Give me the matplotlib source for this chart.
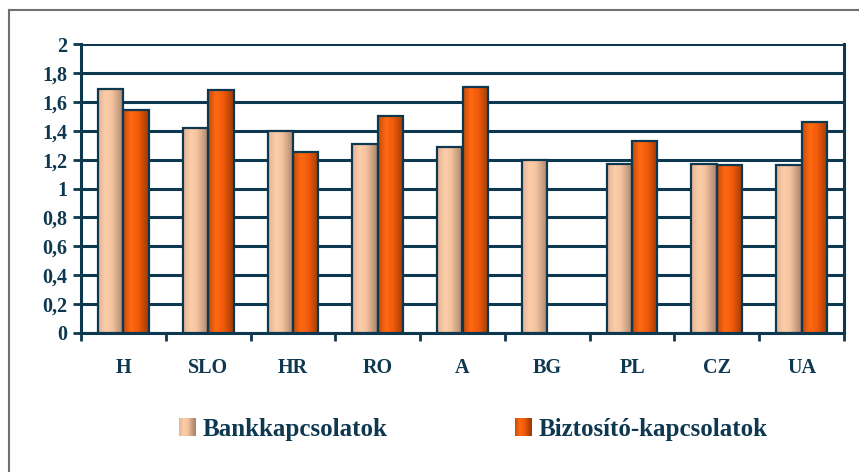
import numpy as np
import matplotlib
matplotlib.use("Agg")
import matplotlib.pyplot as plt
from matplotlib.patches import Rectangle
from matplotlib.legend_handler import HandlerBase
from matplotlib.colors import LinearSegmentedColormap
from matplotlib.lines import Line2D
from matplotlib import font_manager

categories = ["H", "SLO", "HR", "RO", "A", "BG", "PL", "CZ", "UA"]
bank = [1.69, 1.42, 1.40, 1.31, 1.29, 1.20, 1.17, 1.17, 1.16]
biz = [1.54, 1.68, 1.25, 1.50, 1.70, np.nan, 1.33, 1.16, 1.46]
series_names = ["Bankkapcsolatok", "Biztosító-kapcsolatok"]
y_ticks = [0, 0.2, 0.4, 0.6, 0.8, 1, 1.2, 1.4, 1.6, 1.8, 2]
y_labels = ["0", "0,2", "0,4", "0,6", "0,8", "1", "1,2", "1,4", "1,6", "1,8", "2"]

NAVY = "#0D3850"
bank_cmap = LinearSegmentedColormap.from_list(
    "bank", [(0, "#E2B496"), (0.3, "#FDCDA9"), (0.55, "#F4C29E"), (1, "#A8846C")])
biz_cmap = LinearSegmentedColormap.from_list(
    "biz", [(0, "#C84A08"), (0.3, "#FF6A12"), (0.6, "#F05A0A"), (1, "#9E3A02")])

names = {f.name for f in font_manager.fontManager.ttflist}
serif_choices = [n for n in ["Liberation Serif", "Times New Roman", "Nimbus Roman", "DejaVu Serif"] if n in names]
plt.rcParams["font.family"] = "serif"
plt.rcParams["font.serif"] = serif_choices + ["DejaVu Serif"]
plt.rcParams["font.weight"] = "bold"

fig = plt.figure(figsize=(8.59, 4.72), dpi=100)
W, H = 859, 472
ax = fig.add_axes([81 / W, 1 - 333 / H, (844 - 81) / W, (333 - 44) / H])

x = np.arange(len(categories))
bw = 0.30
grad = np.linspace(0, 1, 64).reshape(1, -1)

def gradient_bars(xpos, vals, cmap):
    bars = ax.bar(xpos, np.nan_to_num(vals), bw, facecolor="none",
                  edgecolor=NAVY, linewidth=1.6, zorder=4)
    for b, v in zip(bars, vals):
        if np.isnan(v):
            b.set_visible(False)
            continue
        x0, w, h = b.get_x(), b.get_width(), b.get_height()
        ax.imshow(grad, cmap=cmap, extent=[x0, x0 + w, 0, h],
                  aspect="auto", zorder=3, interpolation="bilinear")
    return bars

gradient_bars(x - bw / 2, bank, bank_cmap)
gradient_bars(x + bw / 2, biz, biz_cmap)

ax.set_xlim(-0.5, len(categories) - 0.5)
ax.set_ylim(0, 2)
ax.set_yticks(y_ticks)
ax.set_yticklabels(y_labels)
ax.set_xticks(x)
ax.set_xticklabels(categories)
ax.set_xticks(np.arange(-0.5, len(categories)), minor=True)
ax.tick_params(axis="x", which="major", length=0, pad=18, labelsize=14.5, labelcolor=NAVY)
ax.tick_params(axis="x", which="minor", length=6, width=2, color=NAVY, direction="out")
ax.tick_params(axis="y", length=6, width=2, color=NAVY, labelsize=14.5, labelcolor=NAVY, pad=4)
ax.grid(axis="y", color=NAVY, linewidth=2.2, zorder=1)
ax.set_axisbelow(True)
for side in ["left", "bottom", "right"]:
    ax.spines[side].set_color(NAVY)
    ax.spines[side].set_linewidth(2.2)
ax.spines["top"].set_visible(False)
for lab in ax.get_xticklabels() + ax.get_yticklabels():
    lab.set_fontweight("bold")


class GradHandler(HandlerBase):
    def __init__(self, cmap):
        super().__init__()
        self.cmap = cmap

    def create_artists(self, legend, orig_handle, xdescent, ydescent, width, height, fontsize, trans):
        n = 16
        arts = []
        for i in range(n):
            r = Rectangle((-xdescent + width * i / n, -ydescent), width / n + 0.3, height,
                          facecolor=self.cmap((i + 0.5) / n), edgecolor="none", transform=trans)
            arts.append(r)
        return arts

h1 = Rectangle((0, 0), 1, 1, label=series_names[0])
h2 = Rectangle((0, 0), 1, 1, label=series_names[1])
leg = fig.legend(handles=[h1, h2], labels=series_names, ncol=2, loc="center",
                 bbox_to_anchor=(0.551, 0.091), frameon=False,
                 handler_map={h1: GradHandler(bank_cmap), h2: GradHandler(biz_cmap)},
                 prop={"size": 18, "weight": "bold"}, handlelength=0.65, handleheight=0.7,
                 handletextpad=0.3, columnspacing=5.1)
for t in leg.get_texts():
    t.set_color(NAVY)

# outer frame (top and left edges visible)
fig.add_artist(Line2D([9 / W, 1], [1 - 10 / H, 1 - 10 / H], color="#707070", linewidth=1.5, transform=fig.transFigure))
fig.add_artist(Line2D([9 / W, 9 / W], [0, 1 - 10 / H], color="#707070", linewidth=1.5, transform=fig.transFigure))

fig.savefig("out.png", dpi=100)
